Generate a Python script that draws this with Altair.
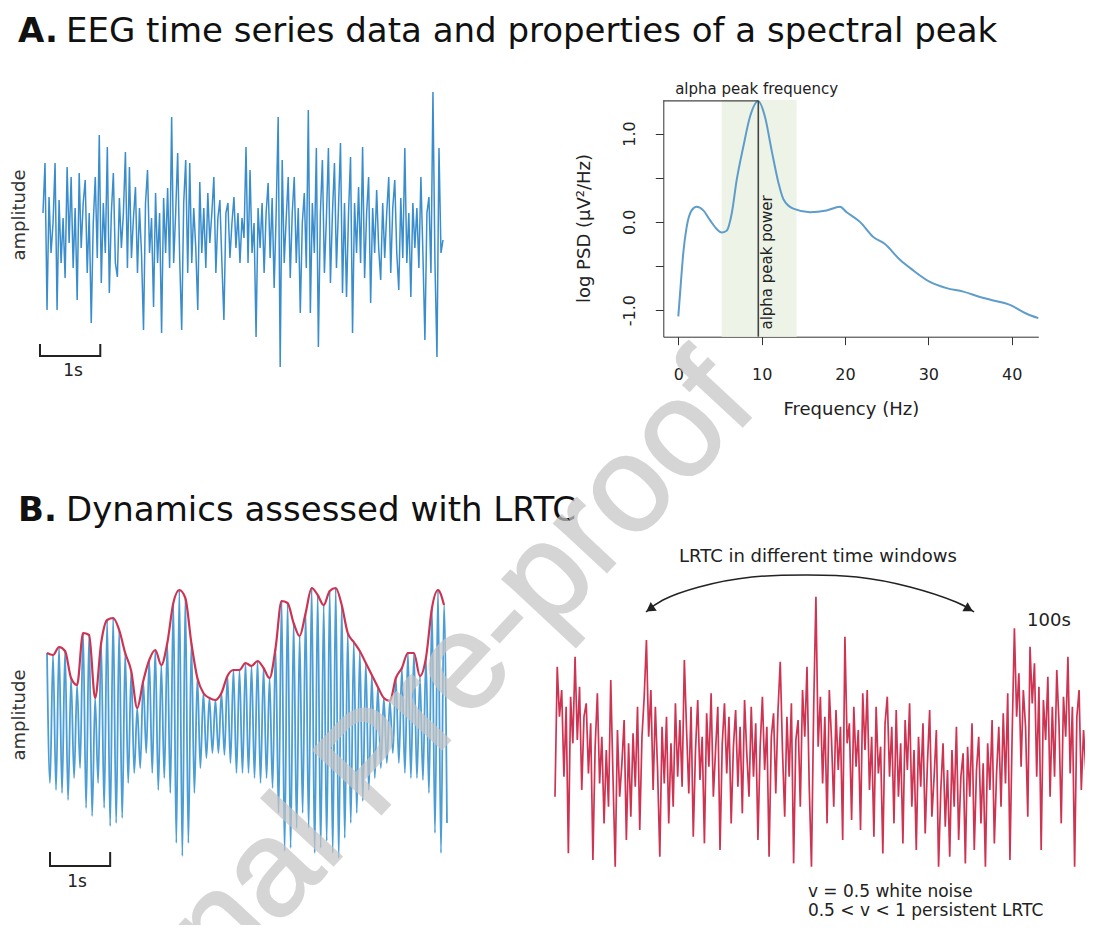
import altair as alt
import numpy as np
import pandas as pd

W, H = 1077, 917


def px(v):
    return v - 8


FONT = "DejaVu Sans"
BLUE_A = "#3a8dcc"
BLUE_B = "#4b9dd6"
RED = "#cf3352"
INK = "#222222"

# ---------------- data ----------------
eeg_amp = [
    20, 70, -77, 36, -20, 10, 70, -77, 33, -30,
    15, -45, 66, -10, 56, -35, 25, -67, 60, -15,
    30, 53, -40, 20, -90, 10, 56, -25, 98, -50,
    30, -20, 86, -60, 20, 60, -30, -44, 35, -15,
    20, 81, -35, 66, -25, 15, 46, -40, 25, -20,
    -97, 30, 63, -20, 15, -74, 40, -30, 20, -100,
    35, -20, 45, -35, 116, -30, 20, 80, -25, -97,
    30, 73, -40, 70, -30, 25, -15, -77, 51, -20,
    25, -35, 40, -10, 20, 56, -40, 15, 33, -30,
    -87, 20, 30, -25, 10, 36, -15, 20, -30, 15,
    -5, 86, -30, 63, -20, 10, -104, 25, -15, 30,
    -40, 20, 50, -25, 35, -55, 20, 116, -134, 73,
    -30, 15, 56, -45, 20, 56, -30, 25, -80, 10,
    40, -35, 123, -80, 30, -20, 85, -114, 20, 73,
    -40, 15, 85, -50, 20, 70, -35, 25, 90, -60,
    30, -64, 20, 76, -100, 30, -20, 46, -30, 86,
    -45, 20, 56, -70, 25, -20, 43, -15, -47, 30,
    -25, 20, 56, -40, 25, 53, -20, -57, 35, -25,
    85, -30, 20, -64, 30, -15, 25, -35, 56, -20,
    -107, 20, 36, -40, 141, -30, -124, 85, -20, -7,
]

psd_freq = [0.0, 0.3, 0.6, 1.0, 1.6, 2.2, 3.0, 3.8, 4.6, 5.2,
            5.8, 6.4, 7.0, 7.8, 8.6, 9.6, 10.4, 11.2, 12.0, 12.6,
            13.8, 15.8, 17.8, 19.4, 20.2, 21.8, 23.4, 24.8, 26.6, 28.2,
            30.2, 32.2, 34.2, 36.2, 37.8, 39.8, 41.8, 43.2]
psd_logp = [-1.07, -0.70, -0.35, -0.06, 0.13, 0.17, 0.13, 0.02, -0.08, -0.12,
            -0.10, 0.09, 0.47, 0.85, 1.19, 1.37, 1.19, 0.81, 0.45, 0.26,
            0.15, 0.11, 0.13, 0.17, 0.11, 0.00, -0.17, -0.25, -0.43, -0.55,
            -0.68, -0.75, -0.79, -0.85, -0.89, -0.94, -1.04, -1.09]
alpha_band = [5.2, 14.2]
alpha_peak_f = 9.6
alpha_peak_p = 1.37

alpha_peak_amp = [70, 68, 76, 72, 45, 38, 90, 88, 25, 80,
                  103, 105, 93, 70, 52, 15, 42, 63, 73, 58,
                  80, 120, 133, 125, 80, 45, 30, 25, 23, 30,
                  47, 53, 53, 60, 57, 62, 55, 45, 75, 122,
                  120, 100, 87, 110, 135, 128, 118, 132, 135, 118,
                  90, 81, 72, 60, 48, 36, 25, 22, 45, 55,
                  70, 70, 47, 65, 115, 133, 118]
alpha_trough_amp = [-60, -67, -70, -77, -55, -45, -85, -93, -60, -85,
                    -103, -100, -95, -60, -50, -45, -30, -50, -67, -55,
                    -70, -120, -133, -120, -70, -45, -35, -30, -30, -32,
                    -40, -50, -50, -50, -55, -60, -55, -65, -90, -128,
                    -125, -105, -90, -105, -130, -125, -118, -130, -135, -115,
                    -100, -90, -78, -67, -55, -45, -40, -30, -40, -50,
                    -55, -55, -57, -70, -110, -130, -100]

lrtc_amp = [
    -120, 270, 120, 200, -60, 150, -290, 180, 40, 300,
    50, 210, -100, 120, 160, -50, 100, -310, 30, 190,
    -80, 60, -200, 20, -150, 230, -60, -330, 80, -120,
    -20, 110, -250, 40, -180, 70, -90, 150, -220, 60,
    180, 350, 60, 200, -100, 150, -40, -300, 90, -80,
    120, -200, 40, -150, 160, -60, 110, -90, 290, 80,
    -110, 150, -240, 20, 170, -70, 60, -260, 130, -30,
    190, -120, 20, 150, -280, 40, 160, -50, 120, -200,
    30, 140, -90, 90, -170, 170, 10, -120, 150, -60,
    100, -250, 30, 180, -40, 90, -300, 60, 130, -110,
    140, 285, 20, -180, 120, -60, 160, -320, 50, 110,
    -150, 200, 60, 270, -90, -330, 150, 480, 30, 180,
    -80, 120, -200, 200, 50, -150, 140, -40, 90, -250,
    360, 40, 100, -190, 150, -30, 80, -220, 190, 20,
    200, -100, 60, -240, 150, -50, 30, -290, 100, 180,
    -60, 90, -200, 140, -120, 40, -260, 110, -40, 160,
    -150, 20, -280, 60, -90, 100, -230, -20, 140, -180,
    -60, 80, -330, -100, 40, -210, -40, -300, 20, -150,
    90, -250, -60, 10, -320, 30, -120, 100, -280, -40,
    60, -200, -20, -330, 40, -100, 110, -260, -50, 90,
    -150, 130, -80, 190, -310, 70, 385, 120, 250, -30,
    200, 90, -180, 330, 160, 280, -60, 210, -280, 170,
    50, 240, -120, 150, -60, 260, 100, -200, 180, 60,
    300, -50, 150, -330, 120, 200, -100, 80, -40, 10,
]

# ---------------- panel A left: EEG trace ----------------
tA = np.arange(len(eeg_amp)) / 30.0
xA = alt.Scale(domain=[0, float(tA[-1])], range=[px(43), px(443)], nice=False, zero=False)
yA = alt.Scale(domain=[-150, 150], range=[px(383), px(83)], nice=False, zero=False)
dfA = pd.DataFrame({"t": tA, "a": eeg_amp})
eegLine = alt.Chart(dfA).mark_line(color=BLUE_A, strokeWidth=1.5).encode(
    x=alt.X("t:Q", scale=xA, axis=None), y=alt.Y("a:Q", scale=yA, axis=None))
barA = pd.DataFrame({"t": [-0.05, -0.05, 0.95, 0.95], "a": [-111, -123, -123, -111], "o": [0, 1, 2, 3]})
barALine = alt.Chart(barA).mark_line(color=INK, strokeWidth=2).encode(
    x=alt.X("t:Q", scale=xA, axis=None), y=alt.Y("a:Q", scale=yA, axis=None), order="o:Q")
oneSA = alt.Chart(pd.DataFrame({"t": [0.5], "a": [-138], "s": ["1s"]})).mark_text(
    font=FONT, fontSize=17, color=INK, baseline="middle").encode(
    x=alt.X("t:Q", scale=xA, axis=None), y=alt.Y("a:Q", scale=yA, axis=None), text="s:N")
ampA = alt.Chart(pd.DataFrame({"t": [-0.38], "a": [18], "s": ["amplitude"]})).mark_text(
    font=FONT, fontSize=18, color="#333", angle=270, baseline="middle").encode(
    x=alt.X("t:Q", scale=xA, axis=None), y=alt.Y("a:Q", scale=yA, axis=None), text="s:N")
layerA = alt.layer(eegLine, barALine, oneSA, ampA)

# ---------------- panel A right: PSD ----------------
xP = alt.Scale(domain=[-1.8, 43.2], range=[px(663.3), px(1038.3)], nice=False, zero=False)
yP = alt.Scale(domain=[-1.30, 1.38], range=[px(336.7), px(100)], nice=False, zero=False)
xP_axis = alt.Axis(orient="bottom", offset=px(336.7) - H, values=[0, 10, 20, 30, 40], format="d",
                   title="Frequency (Hz)", tickSize=8, labelPadding=22, labelFont=FONT, labelFontSize=16,
                   titleFont=FONT, titleFontSize=18, titleFontWeight="normal", titleY=64,
                   titleBaseline="top", domainColor="#333", tickColor="#333", labelColor=INK,
                   titleColor=INK, grid=False, labelFlush=False, labelOverlap=False)
yP_axis = alt.Axis(orient="left", offset=-px(663.3), values=[-1, -0.5, 0, 0.5, 1],
                   labelExpr="datum.value == 1 ? '1.0' : datum.value == 0 ? '0.0' : datum.value == -1 ? '-1.0' : ''",
                   labelAngle=270, labelAlign="center", labelBaseline="bottom", tickSize=8, labelPadding=18,
                   labelFont=FONT, labelFontSize=16, title="log PSD (µV²/Hz)", titleFont=FONT,
                   titleFontSize=18, titleFontWeight="normal", titleX=-70, titleY=220,
                   domainColor="#333", tickColor="#333", labelColor=INK, titleColor=INK,
                   grid=False, labelFlush=False, labelOverlap=False)

band = alt.Chart(pd.DataFrame({"f0": [alpha_band[0]], "f1": [alpha_band[1]], "lo": [-1.30], "hi": [1.38]})).mark_rect(
    color="#edf4e7").encode(x=alt.X("f0:Q", scale=xP, axis=xP_axis), x2="f1:Q",
                            y=alt.Y("lo:Q", scale=yP, axis=yP_axis), y2="hi:Q")
dfP = pd.DataFrame({"f": psd_freq, "p": psd_logp})
psdLine = alt.Chart(dfP).mark_line(color="#5e9cca", strokeWidth=2, interpolate="monotone").encode(
    x=alt.X("f:Q", scale=xP, axis=xP_axis), y=alt.Y("p:Q", scale=yP, axis=yP_axis))
vRule = alt.Chart(pd.DataFrame({"f": [alpha_peak_f], "lo": [-1.30], "hi": [alpha_peak_p]})).mark_rule(
    color="#444", strokeWidth=1.6).encode(x=alt.X("f:Q", scale=xP, axis=xP_axis),
                                          y=alt.Y("lo:Q", scale=yP, axis=yP_axis), y2="hi:Q")
hRule = alt.Chart(pd.DataFrame({"f0": [-1.8], "f1": [alpha_peak_f], "p": [alpha_peak_p]})).mark_rule(
    color="#444", strokeWidth=1.4).encode(x=alt.X("f0:Q", scale=xP, axis=xP_axis), x2="f1:Q",
                                          y=alt.Y("p:Q", scale=yP, axis=yP_axis))
freqTxt = alt.Chart(pd.DataFrame({"f": [9.4], "p": [1.51], "s": ["alpha peak frequency"]})).mark_text(
    font=FONT, fontSize=15, color=INK, baseline="middle").encode(
    x=alt.X("f:Q", scale=xP, axis=xP_axis), y=alt.Y("p:Q", scale=yP, axis=yP_axis), text="s:N")
powTxt = alt.Chart(pd.DataFrame({"f": [10.6], "p": [-0.46], "s": ["alpha peak power"]})).mark_text(
    font=FONT, fontSize=15, color=INK, baseline="middle", angle=270).encode(
    x=alt.X("f:Q", scale=xP, axis=xP_axis), y=alt.Y("p:Q", scale=yP, axis=yP_axis), text="s:N")
layerP = alt.layer(band, psdLine, vRule, hRule, freqTxt, powTxt)

# ---------------- panel B left: alpha oscillation + envelope ----------------
n = len(alpha_peak_amp)
tB = []
aB = []
for k in range(n):
    tB.append(k * 0.1)
    aB.append(alpha_peak_amp[k])
    tB.append(k * 0.1 + 0.05)
    aB.append(alpha_trough_amp[k])
xB = alt.Scale(domain=[0, 6.65], range=[px(47), px(447)], nice=False, zero=False)
yB = alt.Scale(domain=[-150, 150], range=[px(873), px(573)], nice=False, zero=False)
oscLine = alt.Chart(pd.DataFrame({"t": tB, "a": aB})).mark_line(
    color=BLUE_B, strokeWidth=1.8, interpolate="monotone").encode(
    x=alt.X("t:Q", scale=xB, axis=None), y=alt.Y("a:Q", scale=yB, axis=None))
envLine = alt.Chart(pd.DataFrame({"t": [k * 0.1 for k in range(n)], "a": alpha_peak_amp})).mark_line(
    color=RED, strokeWidth=2.2, interpolate="monotone").encode(
    x=alt.X("t:Q", scale=xB, axis=None), y=alt.Y("a:Q", scale=yB, axis=None))
barB = pd.DataFrame({"t": [0.05, 0.05, 1.05, 1.05], "a": [-129, -143, -143, -129], "o": [0, 1, 2, 3]})
barBLine = alt.Chart(barB).mark_line(color=INK, strokeWidth=2).encode(
    x=alt.X("t:Q", scale=xB, axis=None), y=alt.Y("a:Q", scale=yB, axis=None), order="o:Q")
oneSB = alt.Chart(pd.DataFrame({"t": [0.5], "a": [-159], "s": ["1s"]})).mark_text(
    font=FONT, fontSize=17, color=INK, baseline="middle").encode(
    x=alt.X("t:Q", scale=xB, axis=None), y=alt.Y("a:Q", scale=yB, axis=None), text="s:N")
ampB = alt.Chart(pd.DataFrame({"t": [-0.45], "a": [8], "s": ["amplitude"]})).mark_text(
    font=FONT, fontSize=18, color="#333", angle=270, baseline="middle").encode(
    x=alt.X("t:Q", scale=xB, axis=None), y=alt.Y("a:Q", scale=yB, axis=None), text="s:N")
layerB = alt.layer(oscLine, envLine, barBLine, oneSB, ampB)

# ---------------- panel B right: LRTC series ----------------
iR = np.arange(len(lrtc_amp))
xR = alt.Scale(domain=[0, len(lrtc_amp) - 1], range=[px(555), px(1088)], nice=False, zero=False)
yR = alt.Scale(domain=[-450, 500], range=[px(906.7), px(590)], nice=False, zero=False)
redLine = alt.Chart(pd.DataFrame({"i": iR, "a": lrtc_amp})).mark_line(color=RED, strokeWidth=1.7).encode(
    x=alt.X("i:Q", scale=xR, axis=None), y=alt.Y("a:Q", scale=yR, axis=None))
arc_i = [40.8, 48.4, 64.6, 88.3, 113.4, 135.4, 159.2, 179.8, 187.9]
arc_a = [434, 470, 509, 539, 545, 539, 509, 464, 434]
arc = alt.Chart(pd.DataFrame({"i": arc_i, "a": arc_a, "o": list(range(len(arc_i)))})).mark_line(
    color=INK, strokeWidth=1.5, interpolate="natural").encode(
    x=alt.X("i:Q", scale=xR, axis=None), y=alt.Y("a:Q", scale=yR, axis=None), order="o:Q")
heads = alt.Chart(pd.DataFrame({"i": [42.6, 185.6], "a": [443, 443], "ang": [235, 120]})).mark_point(
    shape="triangle-up", filled=True, size=110, color=INK, opacity=1).encode(
    x=alt.X("i:Q", scale=xR, axis=None), y=alt.Y("a:Q", scale=yR, axis=None),
    angle=alt.Angle("ang:Q", scale=None))
lrtcTxt = alt.Chart(pd.DataFrame({"i": [117.9, 221.5], "a": [599, 407],
                                  "s": ["LRTC in different time windows", "100s"]})).mark_text(
    font=FONT, fontSize=18, color=INK, baseline="middle").encode(
    x=alt.X("i:Q", scale=xR, axis=None), y=alt.Y("a:Q", scale=yR, axis=None), text="s:N")
noteTxt = alt.Chart(pd.DataFrame({"i": [113.4, 113.4], "a": [-405, -464],
                                  "s": ["v = 0.5 white noise", "0.5 < v < 1 persistent LRTC"]})).mark_text(
    font=FONT, fontSize=17, color=INK, baseline="middle", align="left").encode(
    x=alt.X("i:Q", scale=xR, axis=None), y=alt.Y("a:Q", scale=yR, axis=None), text="s:N")
layerR = alt.layer(redLine, arc, heads, lrtcTxt, noteTxt)

# ---------------- titles & watermark ----------------
one = pd.DataFrame({"d": [0]})
tA1 = alt.Chart(one).mark_text(text="A.", font=FONT, fontSize=34, fontWeight="bold", color="#111",
                               align="left", baseline="alphabetic").encode(x=alt.value(px(18)), y=alt.value(px(42)))
tA2 = alt.Chart(one).mark_text(text="EEG time series data and properties of a spectral peak", font=FONT,
                               fontSize=34, color="#111", align="left", baseline="alphabetic").encode(
    x=alt.value(px(66)), y=alt.value(px(42)))
tB1 = alt.Chart(one).mark_text(text="B.", font=FONT, fontSize=34, fontWeight="bold", color="#111",
                               align="left", baseline="alphabetic").encode(x=alt.value(px(18)), y=alt.value(px(521)))
tB2 = alt.Chart(one).mark_text(text="Dynamics assessed with LRTC", font=FONT, fontSize=34, color="#111",
                               align="left", baseline="alphabetic").encode(x=alt.value(px(66)), y=alt.value(px(521)))
wm = alt.Chart(one).mark_text(text="Journal Pre-proof", font="Liberation Sans", fontSize=136, color="#c6c6c6",
                              stroke="#c6c6c6", strokeWidth=2, opacity=0.72, angle=313,
                              align="center", baseline="middle").encode(
    x=alt.value(px(372)), y=alt.value(px(764)))
layerT = alt.layer(tA1, tA2, tB1, tB2, wm)

chart = alt.layer(layerA, layerP, layerB, layerR, layerT).resolve_scale(
    x="independent", y="independent"
).properties(
    width=W, height=H, autosize=alt.AutoSizeParams(type="none"), padding=0
).configure_view(stroke=None).configure_axis(grid=False)

chart.save("out.html", embed_options={"renderer": "svg", "actions": False})
